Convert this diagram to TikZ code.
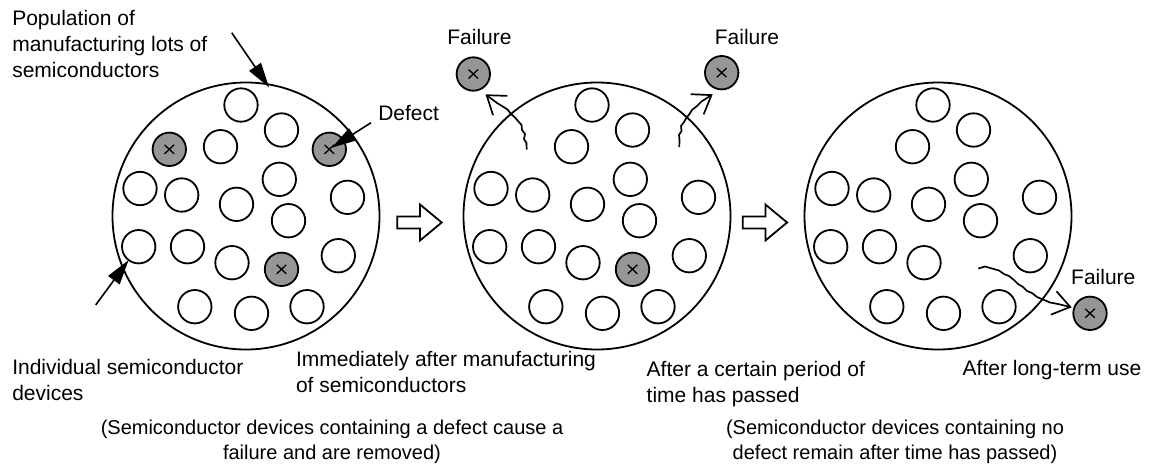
\documentclass[tikz,border=0pt]{standalone}
\usepackage{fontspec}
\setmainfont{Liberation Sans}
\usetikzlibrary{arrows.meta}
\definecolor{defgray}{RGB}{150,150,150}
\begin{document}
\begin{tikzpicture}[x=1pt,y=-1pt,
  lbl/.style={font=\fontsize{21}{26}\selectfont, inner sep=0, outer sep=0, align=left, anchor=north west},
  flbl/.style={font=\fontsize{21}{26}\selectfont, inner sep=0, outer sep=0, anchor=base},
  note/.style={font=\fontsize{20}{25}\selectfont, inner sep=0, outer sep=0, align=center, anchor=north},
  lot/.style={circle, draw, line width=1.8pt, minimum size=267pt, inner sep=0, outer sep=0},
  dev/.style={circle, draw, line width=1.8pt, minimum size=33.4pt, inner sep=0, outer sep=0},
  bad/.style={dev, fill=defgray, path picture={
      \draw[line width=1.3pt] ([shift={(-4.8,-4.5)}]path picture bounding box.center) -- ([shift={(4.8,4.5)}]path picture bounding box.center)
        ([shift={(-4.8,4.5)}]path picture bounding box.center) -- ([shift={(4.8,-4.5)}]path picture bounding box.center);}},
  ptr/.style={line width=1.6pt, -{Triangle[length=25pt,width=14pt]}},
  failarrow/.style={line width=1.7pt, line join=round, -{Straight Barb[length=17pt,width=24pt,line width=1.7pt]}},
  blockarrow/.style={draw, line width=1.8pt, fill=white, line join=miter}
]
\useasboundingbox (0,0) rectangle (1152,475);

% lots
\node[lot] (P1) at (246,216) {};
\node[lot] (P2) at (597,216) {};
\node[lot] (P3) at (938,216) {};

% common devices
\foreach \p in {1,2,3}{
  \foreach \nm/\dx/\dy in {A/-5/-111, B/35.5/-86, C/-25.5/-69.3, D/-106/-27.5, E/-64.3/-21, F/33.3/-36.7,
      G/-9.5/-11.7, H/101.5/-18.7, I/42.5/4.7, J/-107.3/30.7, K/-58.5/30.7, M/-14/46.7, N/92.3/39.7,
      O/-51.2/90.7, Q/5.5/97.3, R/61/90.7}{
    \node[dev] (p\p\nm) at ([shift={(\dx,\dy)}]P\p.center) {};
  }
}
% defective devices
\node[bad] (p1g1) at ([shift={(-76.7,-66.7)}]P1.center) {};
\node[bad] (p1g2) at ([shift={(83.3,-66.7)}]P1.center) {};
\node[bad] (p1g3) at ([shift={(35.5,53.3)}]P1.center) {};
\node[bad] (p2g3) at ([shift={(35.5,53.3)}]P2.center) {};

% failed devices
\node[bad] (fail1) at (473.3,74) {};
\node[bad] (fail2) at (721.7,72.7) {};
\node[bad] (fail3) at (1090,313.3) {};
\node[flbl] (flab1) at (479.5,44) {Failure};
\node[flbl] (flab2) at (747,44) {Failure};
\node[flbl] (flab3) at (1103.3,284) {Failure};

% labels
\node[lbl] (pop) at (12.3,6.8) {\strut Population of\\manufacturing lots of\\semiconductors};
\node[lbl] (deflbl) at (378.3,101.8) {\strut Defect};
\node[lbl] (indiv) at (12.3,355.8) {\strut Individual semiconductor\\devices};
\node[lbl] (imm) at (296,348.5) {\strut Immediately after manufacturing\\of semiconductors};
\node[lbl] (cert) at (646.7,357.8) {\strut After a certain period of\\time has passed};
\node[lbl] (longuse) at (962.7,356.8) {\strut After long-term use};
\node[note] (noteL) at (332,416.5) {\strut (Semiconductor devices containing a defect cause a\\failure and are removed)};
\node[note] (noteR) at (895,416.5) {\strut (Semiconductor devices containing no\\defect remain after time has passed)};

% pointers
\coordinate (popS) at (231.7,32.7);
\draw[ptr, shorten >=-4pt] (popS) -- (P1.81);
\coordinate (defS) at (371,122.7);
\draw[ptr, shorten >=3pt] (defS) -- (p1g2.center);
\coordinate (indS) at (95.7,305);
\draw[ptr] (indS) -- (p1J.233);

% block arrows
\draw[blockarrow] (397.3,216.5) -- (420,216.5) -- (420,204.5) -- (441.7,222.5) -- (420,240.5) -- (420,228.5) -- (397.3,228.5) -- cycle;
\draw[blockarrow] (742.7,216.5) -- (765.4,216.5) -- (765.4,204.5) -- (787.1,222.5) -- (765.4,240.5) -- (765.4,228.5) -- (742.7,228.5) -- cycle;

% failure paths
\coordinate (f1s) at (526.7,149.5);
\coordinate (f1e) at (485.5,94.3);
\draw[failarrow] (f1s) -- (526.5,143) -- (524,139) -- (525,134) -- (522,130) -- (521.5,125) -- (518,121) -- (515,117.5) -- (511,114) -- (507.5,109.5) -- (502,106) -- (497,103) -- (f1e);
\coordinate (f2s) at (679.3,147);
\coordinate (f2e) at (712.7,94.3);
\draw[failarrow] (f2s) -- (679.5,140) -- (679,135) -- (681.5,131) -- (681,126) -- (684,122) -- (686,118.5) -- (689.5,114) -- (692,110) -- (697,106) -- (701.5,101.5) -- (f2e);
\coordinate (f3s) at (978.3,268.5);
\coordinate (f3e) at (1071.7,307.3);
\draw[failarrow] (f3s) -- (985,266.5) -- (992,268.5) -- (999,270.5) -- (1004,274) -- (1009,276) -- (1014,280) -- (1018,284) -- (1023,287) -- (1027,291) -- (1032,293) -- (1037,297) -- (1043,299.5) -- (1050,302.5) -- (1058,304) -- (f3e);
\end{tikzpicture}
\end{document}
